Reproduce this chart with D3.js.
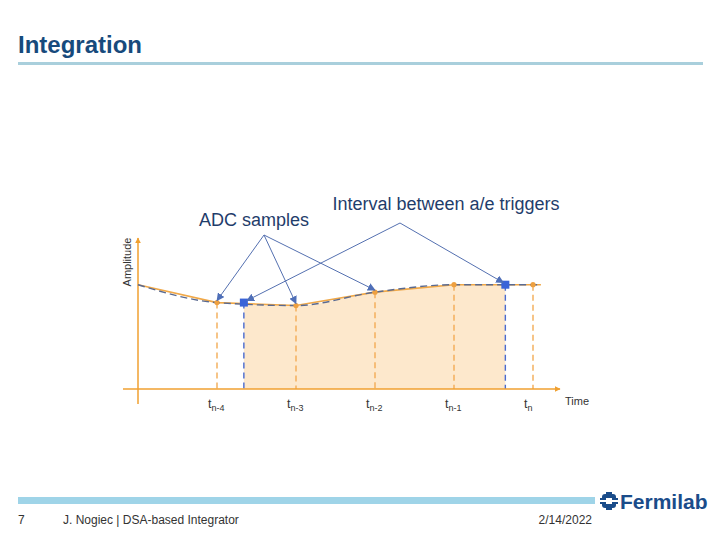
<!DOCTYPE html>
<html lang="en">
<head>
<meta charset="UTF-8">
<title>Integration</title>
<script src="https://d3js.org/d3.v7.min.js"></script>
<style>
    body { margin: 0; background: #fff; }
    svg { display: block; font-family: 'Liberation Sans', Arial, sans-serif; }
    .title { font-size: 24px; font-weight: bold; fill: #174a7c; }
    .note { font-size: 18px; fill: #1f3d6b; }
    .foot { font-size: 12px; fill: #333; }
    .tick { font-size: 12.5px; fill: #333; }
</style>
</head>
<body>
<svg id="chart" width="720" height="540"></svg>
<script>
// sample index (0 = start of trace) and amplitude
var sampleT = [0, 1, 2, 3, 4, 5, 5.1];
var sampleA = [0.70, 0.58, 0.56, 0.65, 0.70, 0.70, 0.70];
var adcIdx = [1, 2, 3, 4, 5];
var tickLabels = [['t', 'n-4'], ['t', 'n-3'], ['t', 'n-2'], ['t', 'n-1'], ['t', 'n']];
// a/e trigger times
var trigT = [1.34, 4.65];
var trigA = [0.58, 0.70];

var svg = d3.select('#chart');
var x = d3.scaleLinear().domain([0, 5]).range([138, 533]);
var y = d3.scaleLinear().domain([0, 1]).range([389, 240]);

// header
svg.append('text').attr('class', 'title').attr('x', 18).attr('y', 53).text('Integration');
svg.append('rect').attr('x', 18).attr('y', 62).attr('width', 685).attr('height', 3).attr('fill', '#a9cfdc');

// footer
svg.append('rect').attr('x', 18).attr('y', 497).attr('width', 577).attr('height', 7).attr('fill', '#9fd4e8');
svg.append('text').attr('class', 'foot').attr('x', 18).attr('y', 524).text('7');
svg.append('text').attr('class', 'foot').attr('x', 63).attr('y', 524).text('J. Nogiec | DSA-based Integrator');
svg.append('text').attr('class', 'foot').attr('x', 592).attr('y', 524).attr('text-anchor', 'end').text('2/14/2022');

// fermilab logo
var logo = svg.append('g').attr('transform', 'translate(609,501)').attr('fill', '#1a4c8a');
logo.append('rect').attr('x', -9).attr('y', -3).attr('width', 18).attr('height', 6);
logo.append('rect').attr('x', -3).attr('y', -9).attr('width', 6).attr('height', 18);
logo.append('rect').attr('x', -7).attr('y', -7).attr('width', 14).attr('height', 14).attr('rx', 3);
logo.append('rect').attr('x', -3).attr('y', -3).attr('width', 6).attr('height', 6).attr('fill', '#fff');
logo.append('rect').attr('x', -10).attr('y', -1).attr('width', 20).attr('height', 2).attr('fill', '#fff');
svg.append('text').attr('x', 620).attr('y', 509).attr('font-size', 21).attr('font-weight', 'bold')
    .attr('fill', '#1a4c8a').text('Fermilab');

// shaded integration interval under curve
var inner = [];
inner.push([trigT[0], trigA[0]]);
sampleT.forEach(function (t, i) {
    if (t > trigT[0] && t < trigT[1]) inner.push([t, sampleA[i]]);
});
inner.push([trigT[1], trigA[1]]);
svg.append('path').datum(inner)
    .attr('fill', '#fde8cc')
    .attr('d', d3.area().x(d => x(d[0])).y0(y(0)).y1(d => y(d[1])).curve(d3.curveMonotoneX));

// dashed drop lines
svg.selectAll('.drop').data(adcIdx).enter().append('line')
    .attr('x1', d => x(d)).attr('x2', d => x(d))
    .attr('y1', d => y(sampleA[d])).attr('y2', y(0))
    .attr('stroke', '#f2ac55').attr('stroke-width', 1.4).attr('stroke-dasharray', '6,4');
svg.selectAll('.tdrop').data(trigT).enter().append('line')
    .attr('x1', d => x(d)).attr('x2', d => x(d))
    .attr('y1', (d, i) => y(trigA[i])).attr('y2', y(0))
    .attr('stroke', '#4a6bd0').attr('stroke-width', 1.4).attr('stroke-dasharray', '6,4');

// axes
var defs = svg.append('defs');
defs.append('marker').attr('id', 'oarrow').attr('viewBox', '0 0 10 10').attr('refX', 9).attr('refY', 5)
    .attr('markerWidth', 6).attr('markerHeight', 6).attr('orient', 'auto').attr('markerUnits', 'userSpaceOnUse')
    .append('path').attr('d', 'M0,0L10,5L0,10Z').attr('fill', '#f0a030');
defs.append('marker').attr('id', 'barrow').attr('viewBox', '0 0 10 10').attr('refX', 9).attr('refY', 5)
    .attr('markerWidth', 8).attr('markerHeight', 8).attr('orient', 'auto').attr('markerUnits', 'userSpaceOnUse')
    .append('path').attr('d', 'M0,0L10,5L0,10Z').attr('fill', '#4f6fb8');

svg.append('line').attr('x1', x(0)).attr('x2', x(0)).attr('y1', 404).attr('y2', 238)
    .attr('stroke', '#f0a030').attr('stroke-width', 1.5).attr('marker-end', 'url(#oarrow)');
svg.append('line').attr('x1', 123).attr('x2', 560).attr('y1', y(0)).attr('y2', y(0))
    .attr('stroke', '#f0a030').attr('stroke-width', 1.5).attr('marker-end', 'url(#oarrow)');

svg.append('text').attr('transform', 'translate(131,262) rotate(-90)').attr('text-anchor', 'middle')
    .attr('font-size', 11).attr('fill', '#333').text('Amplitude');
svg.append('text').attr('x', 565).attr('y', 405).attr('font-size', 11).attr('fill', '#333').text('Time');

// tick labels
var tl = svg.selectAll('.tl').data(adcIdx).enter().append('text').attr('class', 'tick')
    .attr('x', d => x(d) - 9).attr('y', 408);
tl.append('tspan').text((d, i) => tickLabels[i][0]);
tl.append('tspan').attr('dy', 3).attr('font-size', 9).text((d, i) => tickLabels[i][1]);

// signal: orange polyline and smooth dashed reconstruction
var pts = sampleT.map((t, i) => [t, sampleA[i]]);
svg.append('path').datum(pts).attr('fill', 'none').attr('stroke', '#f0a848').attr('stroke-width', 1.6)
    .attr('d', d3.line().x(d => x(d[0])).y(d => y(d[1])));
svg.append('path').datum(pts).attr('fill', 'none').attr('stroke', '#5a6a90').attr('stroke-width', 1.4)
    .attr('stroke-dasharray', '7,4')
    .attr('d', d3.line().x(d => x(d[0])).y(d => y(d[1])).curve(d3.curveMonotoneX));

svg.selectAll('.dot').data(adcIdx).enter().append('circle')
    .attr('cx', d => x(d)).attr('cy', d => y(sampleA[d])).attr('r', 2.6).attr('fill', '#eea040');
svg.selectAll('.sq').data(trigT).enter().append('rect')
    .attr('x', d => x(d) - 4).attr('y', (d, i) => y(trigA[i]) - 4).attr('width', 8).attr('height', 8)
    .attr('fill', '#3a64d8');

// annotations
svg.append('text').attr('class', 'note').attr('x', 254).attr('y', 226).attr('text-anchor', 'middle').text('ADC samples');
svg.append('text').attr('class', 'note').attr('x', 446).attr('y', 210).attr('text-anchor', 'middle').text('Interval between a/e triggers');

var adcFrom = [264, 235];
adcIdx.slice(0, 3).forEach(function (d) {
    svg.append('line').attr('x1', adcFrom[0]).attr('y1', adcFrom[1])
        .attr('x2', x(d)).attr('y2', y(sampleA[d]) - 2)
        .attr('stroke', '#5470b0').attr('stroke-width', 1).attr('marker-end', 'url(#barrow)');
});
var intFrom = [400, 223];
trigT.forEach(function (d, i) {
    svg.append('line').attr('x1', intFrom[0]).attr('y1', intFrom[1])
        .attr('x2', x(d) + (i === 0 ? 3 : -2)).attr('y2', y(trigA[i]) - 2)
        .attr('stroke', '#5470b0').attr('stroke-width', 1).attr('marker-end', 'url(#barrow)');
});
</script>
</body>
</html>
